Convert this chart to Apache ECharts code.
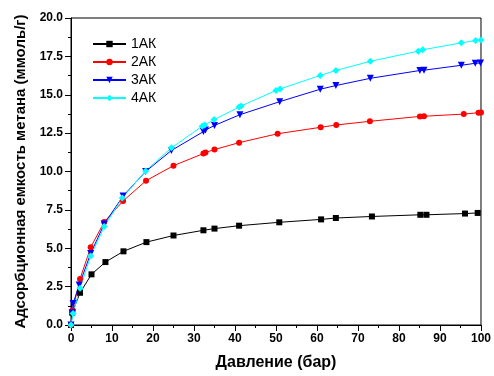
<!DOCTYPE html>
<html>
<head>
<meta charset="utf-8">
<script src="https://cdn.jsdelivr.net/npm/echarts@6/dist/echarts.min.js"></script>
<style>
  html, body { margin: 0; padding: 0; background: #fff; }
  #chart { width: 494px; height: 376px; }
</style>
</head>
<body>
<div id="chart"></div>
<script>
// pressure (bar) / uptake (mmol/g) per sample
const ak1 = [
  [0, 0], [0.3, 0.8], [2.2, 2.1], [5, 3.3], [8.4, 4.1], [12.8, 4.8], [18.4, 5.4], [25, 5.83],
  [32.3, 6.17], [35, 6.28], [41, 6.47], [50.8, 6.69], [61, 6.88], [64.6, 6.97], [73.4, 7.07],
  [85.2, 7.18], [86.7, 7.18], [96.1, 7.26], [99.2, 7.3]
]
const ak2 = [
  [0, 0], [0.4, 0.96], [2.2, 3.0], [4.8, 5.06], [8.1, 6.71], [12.7, 8.08], [18.3, 9.4], [25, 10.38],
  [32.3, 11.17], [32.8, 11.24], [35, 11.43], [41, 11.88], [50.4, 12.46], [60.9, 12.88], [64.7, 13.03],
  [72.9, 13.27], [85.1, 13.59], [86.1, 13.6], [95.8, 13.74], [99.4, 13.83], [100, 13.84]
]
const ak3 = [
  [0, 0], [0.3, 0.8], [0.5, 1.4], [2, 2.6], [4.8, 4.66], [8.1, 6.58], [12.7, 8.4], [18.2, 10.0],
  [24.5, 11.37], [32.3, 12.6], [32.8, 12.7], [35, 13.0], [41.2, 13.7], [50.9, 14.55], [60.8, 15.36],
  [64.6, 15.6], [73, 16.07], [85.1, 16.58], [86.1, 16.6], [95.2, 16.92], [98.6, 17.05], [99.9, 17.07]
]
const ak4 = [
  [0, 0], [0.5, 0.75], [2.2, 2.4], [4.8, 4.49], [8.1, 6.41], [12.5, 8.27], [18.2, 10.04], [24.5, 11.54],
  [32, 12.95], [32.6, 13.03], [34.9, 13.38], [41, 14.2], [41.5, 14.27], [50, 15.28], [51, 15.38],
  [60.8, 16.26], [64.6, 16.58], [73, 17.18], [84.7, 17.84], [85.8, 17.93], [95.2, 18.38],
  [98.7, 18.53], [100, 18.57]
]
const seriesNames = ['1АК', '2АК', '3АК', '4АК']
const xTitle = 'Давление (бар)'
const yTitle = 'Адсорбционная емкость метана (ммоль/г)'

const font = 'Liberation Sans, Arial, sans-serif'

function line(name, data, color, symbol, size, rotate) {
  return {
    name, type: 'line', data, symbol, symbolSize: size, symbolRotate: rotate || 0,
    lineStyle: { color, width: 1 },
    itemStyle: { color },
    animation: false,
  }
}

const axisCommon = {
  axisLine: { show: true, lineStyle: { color: '#000', width: 1 } },
  axisTick: { show: true, inside: false, length: 6, lineStyle: { color: '#000' } },
  minorTick: { show: true, splitNumber: 2, length: 3, lineStyle: { color: '#000' } },
  splitLine: { show: false },
}

const chart = echarts.init(document.getElementById('chart'), null, { renderer: 'canvas' })
chart.setOption({
  backgroundColor: '#fff',
  grid: { left: 71, right: 10, top: 18, bottom: 46, show: true, borderColor: '#000', borderWidth: 1 },
  legend: {
    left: 87, top: 32, orient: 'vertical', itemWidth: 33, itemHeight: 8, itemGap: 4,
    textStyle: { fontFamily: font, fontSize: 14, color: '#000' },
    data: seriesNames,
  },
  xAxis: {
    type: 'value', min: 0, max: 100, interval: 10,
    name: xTitle, nameLocation: 'middle', nameGap: 30,
    nameTextStyle: { fontFamily: font, fontSize: 16, fontWeight: 'bold', color: '#000' },
    axisLabel: { fontFamily: font, fontSize: 12, fontWeight: 'bold', color: '#000', margin: 8 },
    ...axisCommon,
  },
  yAxis: {
    type: 'value', min: 0, max: 20, interval: 2.5,
    name: yTitle, nameLocation: 'middle', nameGap: 43,
    nameTextStyle: { fontFamily: font, fontSize: 15, fontWeight: 'bold', color: '#000' },
    axisLabel: { fontFamily: font, fontSize: 12, fontWeight: 'bold', color: '#000', margin: 8,
      formatter: v => v.toFixed(1) },
    ...axisCommon,
  },
  series: [
    line(seriesNames[0], ak1, '#000000', 'rect', 6),
    line(seriesNames[1], ak2, '#ff0000', 'circle', 6),
    line(seriesNames[2], ak3, '#0000ff', 'triangle', 7, 180),
    line(seriesNames[3], ak4, '#00ffff', 'diamond', 7),
  ],
})
</script>
</body>
</html>
